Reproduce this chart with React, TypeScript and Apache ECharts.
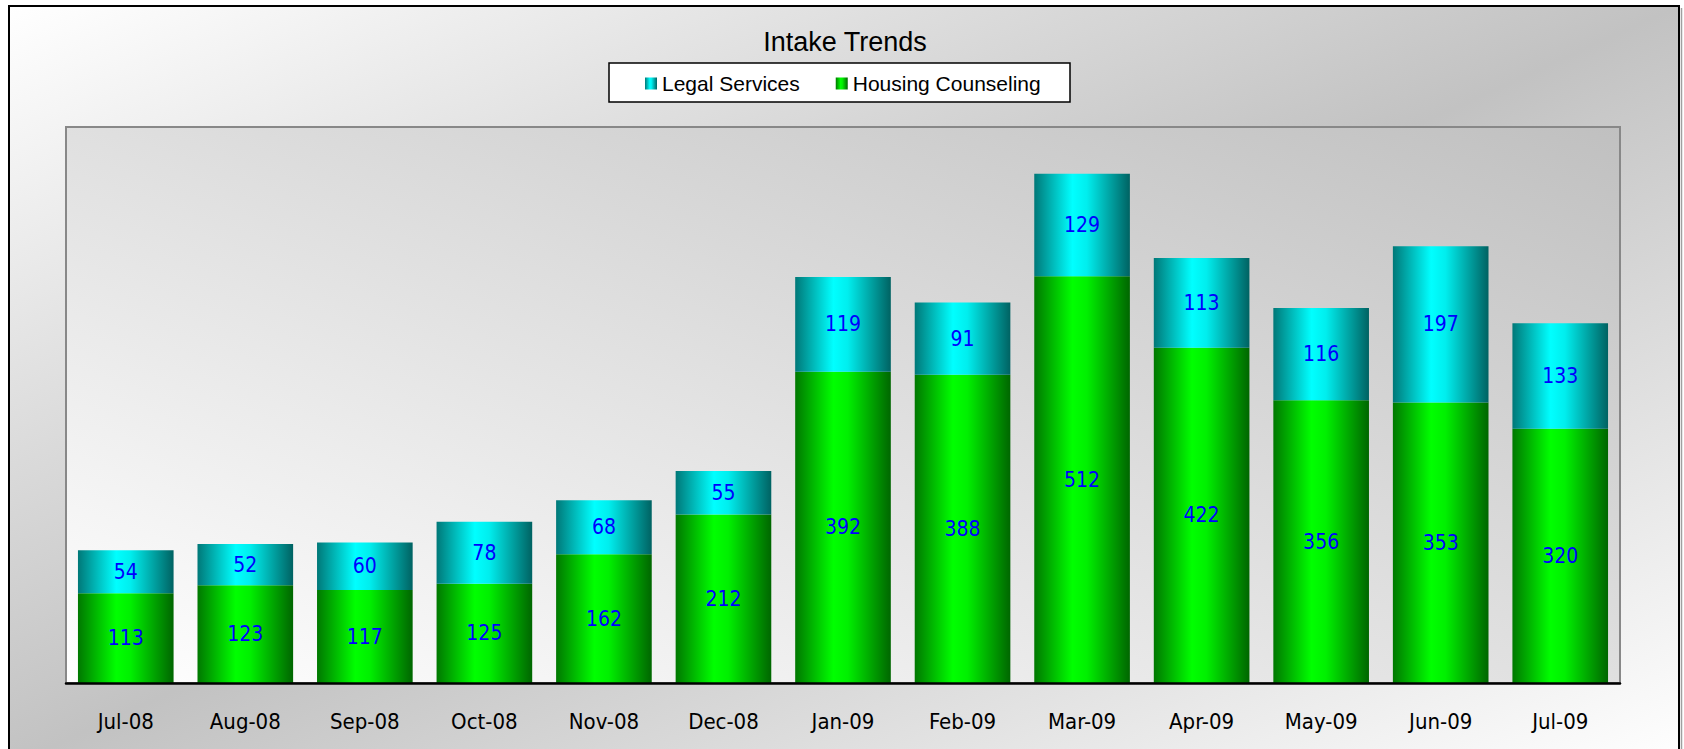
import React, { useEffect, useRef } from "react";
import * as echarts from "echarts";

const categories = ["Jul-08", "Aug-08", "Sep-08", "Oct-08", "Nov-08", "Dec-08", "Jan-09", "Feb-09", "Mar-09", "Apr-09", "May-09", "Jun-09", "Jul-09"];
const housingCounseling = [113, 123, 117, 125, 162, 212, 392, 388, 512, 422, 356, 353, 320];
const legalServices = [54, 52, 60, 78, 68, 55, 119, 91, 129, 113, 116, 197, 133];
const yMax = 700;

// gradient whose iso-lines follow the rectangle's anti-diagonal (like a bounding-box gradient)
function diagGradient(x0: number, y0: number, w: number, h: number, upward: boolean, stops: { offset: number; color: string }[]) {
  const a = 1 / (2 * w);
  const b = (upward ? -1 : 1) / (2 * h);
  const n = a * a + b * b;
  const sx = upward ? x0 : x0;
  const sy = upward ? y0 + h : y0;
  return new echarts.graphic.LinearGradient(sx, sy, sx + a / n, sy + b / n, stops, true);
}

export default function App() {
  const ref = useRef<HTMLDivElement>(null);
  useEffect(() => {
    if (!ref.current) return;
    const chart = echarts.init(ref.current, null, { renderer: "svg" });
    const greenGrad = new echarts.graphic.LinearGradient(0, 0, 1, 0, [
      { offset: 0, color: "#007800" },
      { offset: 0.4, color: "#00ff00" },
      { offset: 0.55, color: "#00f000" },
      { offset: 1, color: "#006600" },
    ]);
    const cyanGrad = new echarts.graphic.LinearGradient(0, 0, 1, 0, [
      { offset: 0, color: "#007878" },
      { offset: 0.4, color: "#00ffff" },
      { offset: 0.55, color: "#00eeee" },
      { offset: 1, color: "#006262" },
    ]);
    const labelFont = "'DejaVu Sans Condensed', 'DejaVu Sans', sans-serif";
    chart.setOption({
      animation: false,
      backgroundColor: "#ffffff",
      title: {
        text: "Intake Trends",
        left: 845,
        textAlign: "center",
        top: 28,
        padding: 0,
        textStyle: { fontSize: 27, fontWeight: "normal", fontFamily: "'Liberation Sans', Arial, sans-serif", color: "#000" },
      },
      legend: {
        data: ["Legal Services", "Housing Counseling"],
        left: 645,
        top: 73,
        padding: 0,
        itemWidth: 12,
        itemHeight: 12,
        itemGap: 36,
        icon: "rect",
        textStyle: { fontSize: 21, fontFamily: "'Liberation Sans', Arial, sans-serif", color: "#000" },
      },
      graphic: [
        {
          type: "rect",
          z: -10,
          shape: { x: 9, y: 6, width: 1670, height: 760 },
          style: {
            fill: diagGradient(9, 6, 1670, 760, false, [
              { offset: 0, color: "#ffffff" },
              { offset: 0.5, color: "#c2c2c2" },
              { offset: 1, color: "#ffffff" },
            ]),
            stroke: "#000",
            lineWidth: 2,
          },
        },
        {
          type: "line",
          z: -10,
          shape: { x1: 1681.5, y1: 8, x2: 1681.5, y2: 760 },
          style: { stroke: "#a0a0a0", lineWidth: 1.5 },
        },
        {
          type: "rect",
          z: -9,
          shape: { x: 609, y: 63, width: 461, height: 39 },
          style: { fill: "#ffffff", stroke: "#000", lineWidth: 1.5 },
        },
        {
          type: "rect",
          z: -9,
          shape: { x: 66, y: 127, width: 1554, height: 556 },
          style: {
            fill: diagGradient(66, 127, 1554, 556, true, [
              { offset: 0, color: "#ffffff" },
              { offset: 1, color: "#c0c0c0" },
            ]),
            stroke: "#888888",
            lineWidth: 2,
          },
        },
      ],
      grid: { left: 66, right: 64, top: 127, bottom: 66, containLabel: false },
      xAxis: {
        type: "category",
        data: categories,
        z: 5,
        axisLine: { lineStyle: { color: "#000", width: 2.5 } },
        axisTick: { show: false },
        axisLabel: { margin: 27, fontSize: 22, fontFamily: labelFont, color: "#000" },
      },
      yAxis: {
        type: "value",
        min: 0,
        max: yMax,
        show: false,
        splitLine: { show: false },
      },
      series: [
        {
          name: "Housing Counseling",
          type: "bar",
          stack: "total",
          barCategoryGap: "20%",
          data: housingCounseling,
          itemStyle: { color: greenGrad },
          label: { show: true, position: "inside", color: "#0000ff", fontSize: 21, fontFamily: labelFont },
        },
        {
          name: "Legal Services",
          type: "bar",
          stack: "total",
          barCategoryGap: "20%",
          data: legalServices,
          itemStyle: { color: cyanGrad },
          label: { show: true, position: "inside", color: "#0000ff", fontSize: 21, fontFamily: labelFont },
        },
      ],
    });
    return () => chart.dispose();
  }, []);
  return <div ref={ref} style={{ position: "fixed", left: 0, top: 0, width: 1684, height: 749 }} />;
}
